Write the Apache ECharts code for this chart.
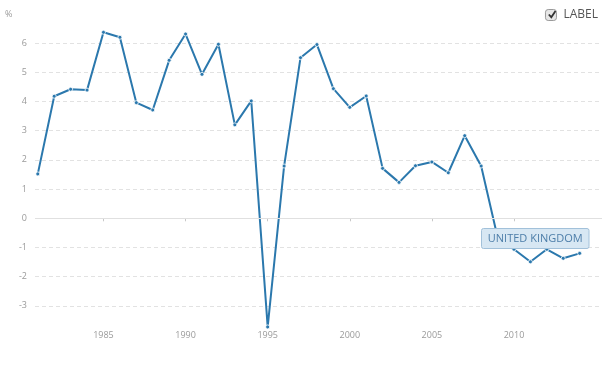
<!DOCTYPE html>
<html><head><meta charset="utf-8">
<script src="https://cdn.jsdelivr.net/npm/echarts@6/dist/echarts.min.js"></script>
<style>html,body{margin:0;padding:0;background:#fff}#c{width:604px;height:384px}</style>
</head><body><div id="c"></div>
<script>
var years = [1981,1982,1983,1984,1985,1986,1987,1988,1989,1990,1991,1992,1993,1994,1995,1996,1997,1998,1999,2000,2001,2002,2003,2004,2005,2006,2007,2008,2009,2010,2011,2012,2013,2014];
var values = [1.52,4.18,4.42,4.39,6.37,6.2,3.96,3.71,5.41,6.31,4.93,5.96,3.2,4.02,-3.72,1.79,5.5,5.95,4.44,3.8,4.19,1.71,1.23,1.8,1.93,1.56,2.83,1.79,-0.65,-1.06,-1.49,-1.06,-1.37,-1.2];
var xTicks = [1985,1990,1995,2000,2005,2010];
var seriesName = 'LABEL';
var unitLabel = '%';
var tooltipText = 'UNITED KINGDOM';

var chart = echarts.init(document.getElementById('c'), null, {renderer:'canvas'});
var font = '"Open Sans", sans-serif';
chart.setOption({
  animation:false,
  backgroundColor:'#fff',
  grid:{left:35, right:2, top:13.9, bottom:48.9},
  legend:{
    right:6, top:9, padding:0, itemWidth:11, itemHeight:11,
    data:[{name:seriesName, icon:'roundRect'}],
    itemStyle:{color:'#e6e6e6', borderColor:'#9a9a9a', borderWidth:1},
    textStyle:{color:'#555', fontSize:12, fontFamily:font, padding:[0,0,0,2]}
  },
  xAxis:{
    type:'value', min:1980.83, max:2015.36, offset:-12.5,
    axisLine:{show:false},
    axisTick:{show:true, length:3, lineStyle:{color:'#c8c8c8'}, customValues:xTicks},
    axisLabel:{color:'#9a9a9a', fontSize:9, fontFamily:font, margin:8, customValues:xTicks, formatter:function(v){return String(v);}},
    splitLine:{show:false}
  },
  yAxis:{
    type:'value', min:-4, max:7, interval:1,
    axisLine:{show:false}, axisTick:{show:false},
    axisLabel:{color:'#9a9a9a', fontSize:9, fontFamily:font, margin:8, showMinLabel:false, showMaxLabel:false},
    splitLine:{show:true, showMinLine:false, showMaxLine:false, lineStyle:{color:'#e2e2e2', type:[4,3], width:1}}
  },
  series:[{
    name:seriesName, type:'line',
    data: years.map(function(y,i){return [y, values[i]];}),
    color:'#2b78ad',
    lineStyle:{width:2, color:'#2b78ad'},
    symbol:'circle', symbolSize:4,
    itemStyle:{color:'#2b78ad', borderColor:'#fff', borderWidth:0.8},
    clip:false,
    markLine:{
      silent:true, symbol:['none','none'], label:{show:false},
      lineStyle:{color:'#e0e0e0', type:'solid', width:1},
      data:[{yAxis:0}]
    }
  }],
  graphic:[
    {type:'text', left:5, top:10, style:{text:unitLabel, fill:'#9a9a9a', fontSize:9, fontFamily:font}},
    {type:'polyline', z:100, shape:{points:[[548.8,14.5],[551.3,17.2],[555.5,11]]}, style:{stroke:'#333', lineWidth:1.8, fill:null}},
    {type:'rect', z:100, shape:{x:481.5, y:228.5, width:107.5, height:20, r:2}, style:{fill:'#d7e7f3', stroke:'#a2c1da', lineWidth:1}},
    {type:'text', z:101, x:535.25, y:238.5, style:{text:tooltipText, fill:'#4d7ea9', fontSize:11, fontFamily:font, align:'center', verticalAlign:'middle'}}
  ]
});
</script>
</body></html>
